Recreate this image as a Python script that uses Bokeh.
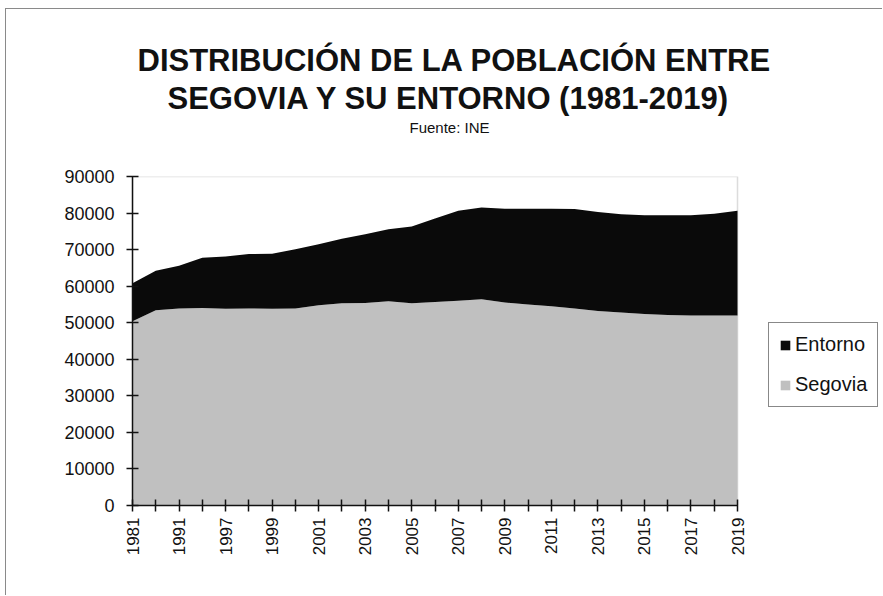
from bokeh.plotting import figure
from bokeh.models import (ColumnDataSource, FixedTicker, BasicTickFormatter, Legend,
                          LegendItem, Title, BoxAnnotation)
from bokeh.embed import file_html
from bokeh.resources import INLINE
import math

years = ["1981", "1986", "1991", "1996", "1997", "1998", "1999", "2000", "2001",
         "2002", "2003", "2004", "2005", "2006", "2007", "2008", "2009", "2010",
         "2011", "2012", "2013", "2014", "2015", "2016", "2017", "2018", "2019"]
segovia = [50400, 53400, 53900, 54000, 53800, 53900, 53800, 53900, 54800,
           55300, 55400, 55900, 55300, 55700, 56000, 56400, 55500, 55000,
           54500, 53900, 53200, 52800, 52400, 52100, 52000, 52000, 52000]
entorno = [10400, 10800, 11700, 13800, 14300, 14900, 15100, 16200, 16700,
           17700, 18800, 19700, 21000, 22800, 24600, 25100, 25700, 26200,
           26700, 27200, 27100, 26900, 27000, 27300, 27400, 27800, 28600]
y_ticks = [0, 10000, 20000, 30000, 40000, 50000, 60000, 70000, 80000, 90000]

FONT = "Liberation Sans"
W, H = 877, 587
BL, BR = 126, 1
DATA_W = 605                      # pixel width of the data area
FRAME_W = W - BL - BR             # frame extends under the legend
xs = list(range(len(years)))
x_end = xs[-1] * FRAME_W / DATA_W

src = ColumnDataSource(dict(x=xs, Segovia=segovia, Entorno=entorno))

p = figure(width=W, height=H, output_backend="svg", toolbar_location=None,
           x_range=(xs[0], x_end), y_range=(y_ticks[0], y_ticks[-1]),
           min_border_left=BL, min_border_right=BR, min_border_top=167,
           min_border_bottom=91)
p.styles = {"margin-left": "5px", "margin-top": "8px",
            "border-left": "1px solid #8a8a8a", "border-top": "1px solid #8a8a8a"}
p.background_fill_color = "white"
p.border_fill_color = "white"
p.outline_line_color = None
p.xgrid.visible = False
p.ygrid.visible = False

p.add_layout(BoxAnnotation(left=xs[0], right=xs[-1], bottom=y_ticks[0], top=y_ticks[-1],
                           fill_alpha=0, line_color="#8a8a8a", line_width=1.5,
                           level="underlay"))

rs = p.varea_stack(["Segovia", "Entorno"], x="x", source=src,
                   color=["#c0c0c0", "#0a0a0a"])

# axes
p.yaxis.ticker = FixedTicker(ticks=y_ticks)
p.yaxis.formatter = BasicTickFormatter(use_scientific=False)
p.xaxis.ticker = FixedTicker(ticks=xs)
p.xaxis.bounds = (xs[0], xs[-1])
p.xaxis.major_label_overrides = {i: (years[i] if i % 2 == 0 else "") for i in xs}
p.xaxis.major_label_orientation = math.pi / 2
for ax in (p.xaxis, p.yaxis):
    ax.axis_line_color = "#111111"
    ax.axis_line_width = 1.5
    ax.major_tick_line_color = "#111111"
    ax.major_tick_line_width = 1.5
    ax.major_tick_in = 6
    ax.major_tick_out = 6
    ax.minor_tick_line_color = None
    ax.major_label_text_font = FONT
    ax.major_label_text_font_size = "18px"
    ax.major_label_text_color = "#111111"
p.yaxis.major_label_standoff = 12
p.xaxis.major_label_standoff = 6
p.xaxis.major_label_text_font_size = "17px"

legend = Legend(items=[LegendItem(label="Entorno", renderers=[rs[1]]),
                       LegendItem(label="Segovia", renderers=[rs[0]])],
                location=(636, 98), orientation="vertical")
legend.label_text_font = FONT
legend.label_text_font_size = "20px"
legend.label_text_color = "#111111"
legend.glyph_width = 12
legend.glyph_height = 12
legend.label_height = 20
legend.label_standoff = 4
legend.spacing = 17
legend.padding = 10
legend.margin = 0
legend.border_line_color = "#111111"
legend.border_line_width = 1.5
legend.background_fill_color = "white"
legend.background_fill_alpha = 1
p.add_layout(legend, "center")

# titles: added closest-to-plot first (text, size, weight, standoff, left offset)
titles = [(" ", "10px", "normal", 28, 0),
          ("Fuente: INE", "15px", "normal", 0, 277),
          ("SEGOVIA Y SU ENTORNO (1981-2019)", "31px", "bold", 2, 35),
          ("DISTRIBUCIÓN DE LA POBLACIÓN ENTRE", "31px", "bold", 0, 5)]
for txt, fs, fw, so, off in titles:
    p.add_layout(Title(text=txt, align="left", text_font=FONT, text_font_size=fs,
                       text_font_style=fw, text_color="#111111", standoff=so,
                       offset=off), "above")

open("out.html", "w").write(file_html(p, INLINE))
